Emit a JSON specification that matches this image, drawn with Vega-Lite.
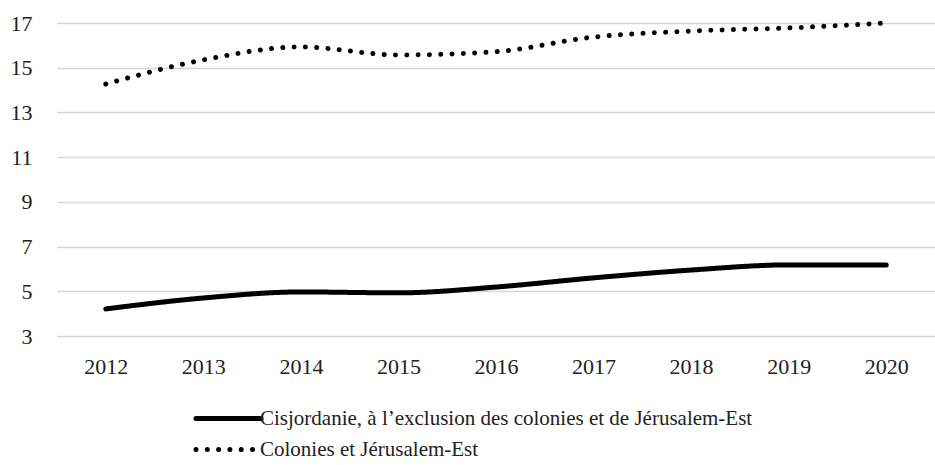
{
  "$schema": "https://vega.github.io/schema/vega-lite/v6.json",
  "width": 878,
  "height": 313,
  "autosize": {"type": "none"},
  "padding": {"left": 57, "top": 23, "right": 0, "bottom": 129},
  "background": "white",
  "config": {
    "view": {"stroke": null},
    "font": "Liberation Serif",
    "axis": {"domain": false, "ticks": false, "labelFont": "Liberation Serif", "labelFontSize": 22, "labelColor": "#222222"},
    "legend": {"labelFont": "Liberation Serif", "labelFontSize": 21, "labelColor": "#222222", "labelLimit": 0}
  },
  "data": {
    "values": [
      {"year": "2012", "series": "Cisjordanie, à l’exclusion des colonies et de Jérusalem-Est", "value": 4.21},
      {"year": "2013", "series": "Cisjordanie, à l’exclusion des colonies et de Jérusalem-Est", "value": 4.70},
      {"year": "2014", "series": "Cisjordanie, à l’exclusion des colonies et de Jérusalem-Est", "value": 4.97},
      {"year": "2015", "series": "Cisjordanie, à l’exclusion des colonies et de Jérusalem-Est", "value": 4.93},
      {"year": "2016", "series": "Cisjordanie, à l’exclusion des colonies et de Jérusalem-Est", "value": 5.19},
      {"year": "2017", "series": "Cisjordanie, à l’exclusion des colonies et de Jérusalem-Est", "value": 5.60},
      {"year": "2018", "series": "Cisjordanie, à l’exclusion des colonies et de Jérusalem-Est", "value": 5.95},
      {"year": "2019", "series": "Cisjordanie, à l’exclusion des colonies et de Jérusalem-Est", "value": 6.18},
      {"year": "2020", "series": "Cisjordanie, à l’exclusion des colonies et de Jérusalem-Est", "value": 6.18},
      {"year": "2012", "series": "Colonies et Jérusalem-Est", "value": 14.27},
      {"year": "2013", "series": "Colonies et Jérusalem-Est", "value": 15.35},
      {"year": "2014", "series": "Colonies et Jérusalem-Est", "value": 15.93},
      {"year": "2015", "series": "Colonies et Jérusalem-Est", "value": 15.57},
      {"year": "2016", "series": "Colonies et Jérusalem-Est", "value": 15.72},
      {"year": "2017", "series": "Colonies et Jérusalem-Est", "value": 16.37},
      {"year": "2018", "series": "Colonies et Jérusalem-Est", "value": 16.64},
      {"year": "2019", "series": "Colonies et Jérusalem-Est", "value": 16.78},
      {"year": "2020", "series": "Colonies et Jérusalem-Est", "value": 17.0}
    ]
  },
  "mark": {"type": "line", "interpolate": "monotone", "strokeWidth": 5, "strokeCap": "round", "color": "black"},
  "encoding": {
    "x": {
      "field": "year", "type": "ordinal", "title": null,
      "scale": {"type": "point", "padding": 0.5},
      "axis": {"labelAngle": 0, "labelPadding": 20, "grid": false}
    },
    "y": {
      "field": "value", "type": "quantitative", "title": null,
      "scale": {"domain": [3, 17], "nice": false, "zero": false},
      "axis": {"values": [3, 5, 7, 9, 11, 13, 15, 17], "labelPadding": 25, "grid": true, "gridColor": "#d6d6d6", "gridWidth": 1.5}
    },
    "strokeDash": {
      "field": "series", "type": "nominal",
      "scale": {
        "domain": ["Cisjordanie, à l’exclusion des colonies et de Jérusalem-Est", "Colonies et Jérusalem-Est"],
        "range": [[1, 0], [0.01, 11.3]]
      },
      "legend": {
        "title": null,
        "orient": "none",
        "legendX": 158,
        "legendY": 382,
        "direction": "vertical",
        "symbolType": "M-3,0H3",
        "symbolSize": 470,
        "symbolStrokeWidth": 5,
        "symbolStrokeColor": "black",
        "labelOffset": 18,
        "rowPadding": 7,
        "encode": {"symbols": {"update": {"strokeCap": {"value": "round"}}}}
      }
    }
  }
}
